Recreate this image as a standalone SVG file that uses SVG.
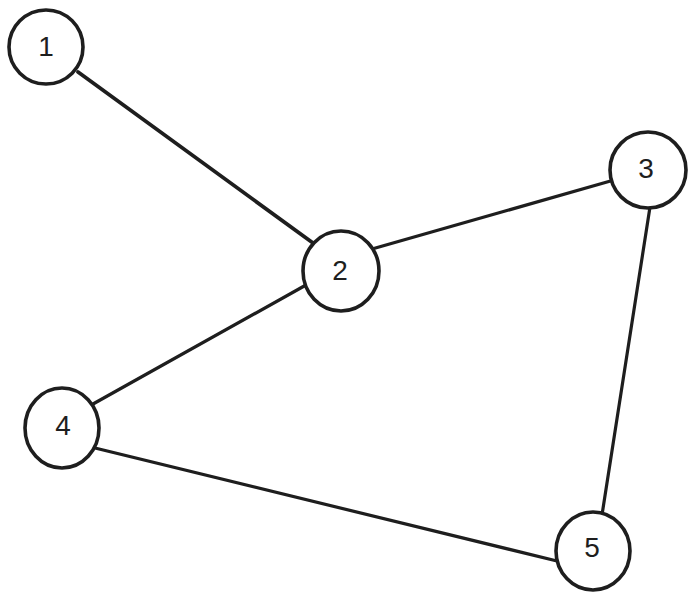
<svg xmlns="http://www.w3.org/2000/svg" width="693" height="599" viewBox="0 0 693 599">
<style>
.node ellipse{fill:#ffffff;stroke:#1e1e1e;stroke-width:3.6}
.node text{font-family:"Liberation Sans",Arial,sans-serif;font-size:28px;fill:#1e1e1e;text-anchor:middle;dominant-baseline:central}
.edges line{stroke:#1e1e1e;stroke-width:3.2;stroke-linecap:round}
</style>
<rect width="693" height="599" fill="#ffffff"/>
<g id="edges" class="edges">
<line x1="78" y1="72" x2="313" y2="243" style="stroke-width:3.8"/>
<line x1="372" y1="249" x2="614" y2="180"/>
<line x1="306" y1="285" x2="93" y2="404"/>
<line x1="95" y1="448" x2="557" y2="561"/>
<line x1="650" y1="207" x2="602" y2="515"/>
</g>
<g id="node1" class="node"><ellipse cx="46" cy="47" rx="37" ry="37"/><text x="46" y="46">1</text></g>
<g id="node2" class="node"><ellipse cx="341" cy="271" rx="38" ry="40"/><text x="340" y="270">2</text></g>
<g id="node3" class="node"><ellipse cx="648" cy="170" rx="38" ry="38"/><text x="646" y="168">3</text></g>
<g id="node4" class="node"><ellipse cx="62" cy="428" rx="37" ry="40"/><text x="63" y="425">4</text></g>
<g id="node5" class="node"><ellipse cx="593" cy="551" rx="37" ry="39"/><text x="592" y="547">5</text></g>
</svg>
